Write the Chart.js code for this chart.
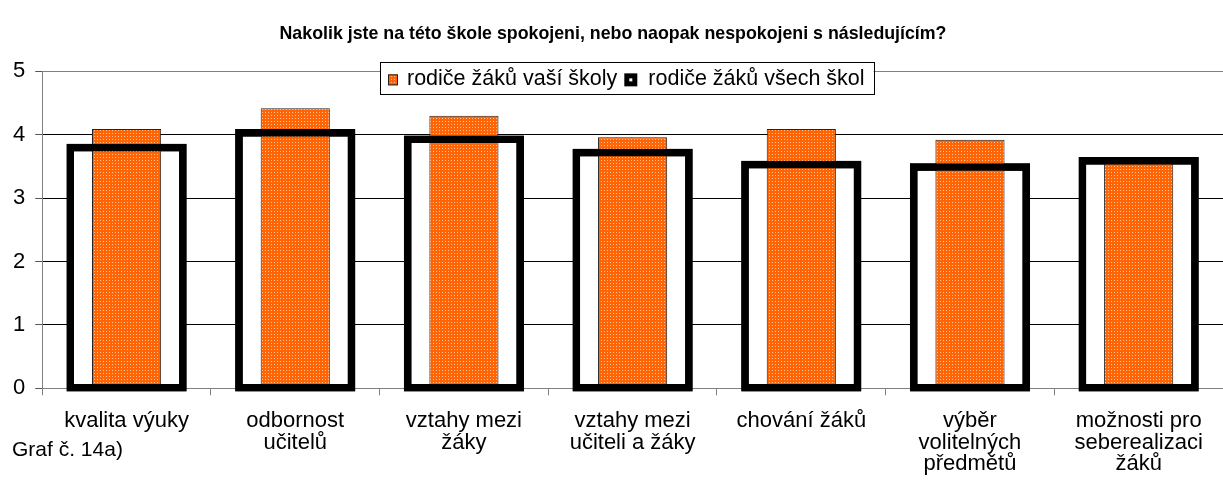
<!DOCTYPE html>
<html>
<head>
<meta charset="utf-8">
<script src="https://cdn.jsdelivr.net/npm/chart.js"></script>
<style>
  body { margin: 0; background: #fff; }
  #wrap { position: relative; width: 1223px; height: 487px; }
  #note { position: absolute; left: 12px; top: 437px; font: 21px "Liberation Sans", Arial, sans-serif; color: #000; }
</style>
</head>
<body>
<div id="wrap">
  <canvas id="chart" width="1223" height="487"></canvas>
  <div id="note">Graf č. 14a)</div>
</div>
<script>
// Data
const categories = [
  "kvalita výuky",
  ["odbornost", "učitelů"],
  ["vztahy mezi", "žáky"],
  ["vztahy mezi", "učiteli a žáky"],
  "chování žáků",
  ["výběr", "volitelných", "předmětů"],
  ["možnosti pro", "seberealizaci", "žáků"]
];
const seriesNames = ["rodiče žáků vaší školy", "rodiče žáků všech škol"];
const thisSchool = [4.09, 4.42, 4.30, 3.96, 4.09, 3.92, 3.55];
const allSchools = [3.80, 4.03, 3.93, 3.72, 3.53, 3.49, 3.59];
const yMin = 0;
const yMax = 5;
const yStep = 1;

const FONT = '"Liberation Sans", Arial, sans-serif';
Chart.defaults.font.family = FONT;
Chart.defaults.color = "#000";

const canvas = document.getElementById("chart");

// orange fill with small light dots
function dotPattern() {
  const tile = document.createElement("canvas");
  tile.width = 3;
  tile.height = 3;
  const t = tile.getContext("2d");
  t.fillStyle = "#ff6405";
  t.fillRect(0, 0, 3, 3);
  t.fillStyle = "#ffc49a";
  t.fillRect(1, 1, 1, 1);
  return canvas.getContext("2d").createPattern(tile, "repeat");
}
const orange = dotPattern();

// legend drawn as a framed box over the top edge of the plot
const legendBox = {
  id: "legendBox",
  afterDraw(chart) {
    const ctx = chart.ctx;
    const area = chart.chartArea;
    const ds = chart.data.datasets;
    ctx.save();
    ctx.font = "21.5px " + FONT;
    const w1 = ctx.measureText(ds[0].label).width;
    const w2 = ctx.measureText(ds[1].label).width;
    const boxW = 8 + 10 + 9 + w1 + 7 + 13 + 11 + w2 + 9;
    const mid = area.top + 8;
    const left = Math.round((area.left + area.right) / 2 - 6 - boxW / 2);
    const top = Math.round(area.top - 9);

    ctx.fillStyle = "#fff";
    ctx.fillRect(left, top, boxW, 32);
    ctx.strokeStyle = "#000";
    ctx.lineWidth = 1;
    ctx.strokeRect(left + 0.5, top + 0.5, Math.round(boxW), 32);

    let x = left + 8;
    ctx.fillStyle = orange;
    ctx.fillRect(x, mid - 5, 10, 11);
    ctx.strokeStyle = "#222";
    ctx.strokeRect(x + 0.5, mid - 4.5, 9, 10);
    x += 10 + 9;
    ctx.fillStyle = "#000";
    ctx.textBaseline = "middle";
    ctx.fillText(ds[0].label, x, mid);
    x += w1 + 7;
    ctx.fillRect(x, mid - 6, 13, 13);
    ctx.fillStyle = "#fff";
    ctx.fillRect(x + 5, mid - 1, 3, 3);
    x += 13 + 11;
    ctx.fillStyle = "#000";
    ctx.fillText(ds[1].label, x, mid);
    ctx.restore();
  }
};

new Chart(canvas, {
  type: "bar",
  data: {
    labels: categories,
    datasets: [
      {
        // orange bars, in front of the white box but under its outline
        label: seriesNames[0],
        data: thisSchool,
        order: 1,
        grouped: false,
        backgroundColor: orange,
        borderColor: "#222",
        borderWidth: 1,
        borderSkipped: false,
        inflateAmount: 0,
        barPercentage: 0.41,
        categoryPercentage: 1
      },
      {
        // all schools: white box behind
        label: seriesNames[1],
        data: allSchools,
        order: 2,
        grouped: false,
        backgroundColor: "#fff",
        borderColor: "#000",
        borderWidth: 7.5,
        borderSkipped: false,
        inflateAmount: 3.75,
        barPercentage: 0.668,
        categoryPercentage: 1
      },
      {
        // all schools: thick outline on top of everything
        label: "outline",
        data: allSchools,
        order: 0,
        grouped: false,
        backgroundColor: "rgba(0,0,0,0)",
        borderColor: "#000",
        borderWidth: 0.01,
        borderSkipped: false,
        inflateAmount: 3.75,
        barPercentage: 0.668,
        categoryPercentage: 1
      }
    ]
  },
  options: {
    responsive: false,
    animation: false,
    clip: false,
    layout: { padding: { left: 3, right: 0, top: 0, bottom: -3 } },
    plugins: {
      legend: { display: false },
      tooltip: { enabled: false },
      title: {
        display: true,
        text: "Nakolik jste na této škole spokojeni, nebo naopak nespokojeni s následujícím?",
        color: "#000",
        font: { size: 17.8, weight: "bold" },
        padding: { top: 23, bottom: 27 }
      }
    },
    scales: {
      x: {
        grid: { offset: true, drawOnChartArea: false, tickLength: 7, color: "#808080" },
        border: { color: "#808080" },
        ticks: { font: { size: 22, lineHeight: 0.98 }, color: "#000", maxRotation: 0, autoSkip: false, padding: 15 }
      },
      y: {
        min: yMin,
        max: yMax,
        grid: {
          tickLength: 7,
          color: (c) => (c.tick && c.tick.value === yMax ? "#808080" : "#000"),
          tickColor: "#555"
        },
        border: { color: "#808080" },
        ticks: { stepSize: yStep, font: { size: 22 }, color: "#000", padding: 10 }
      }
    }
  },
  plugins: [legendBox]
});
</script>
</body>
</html>
